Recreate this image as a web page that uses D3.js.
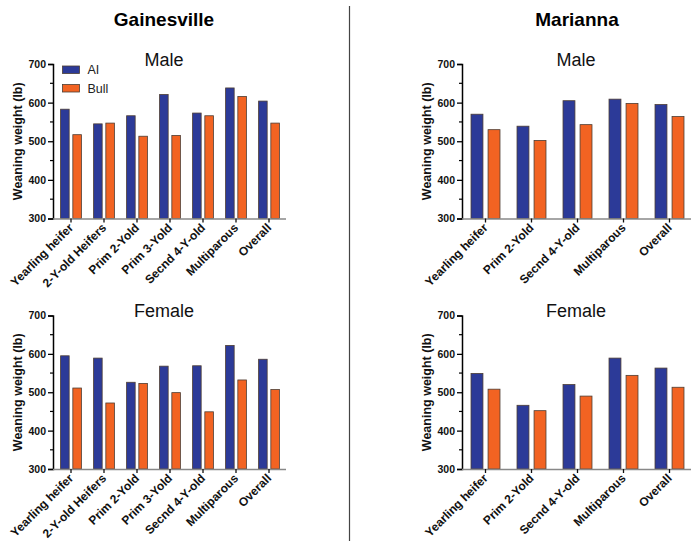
<!DOCTYPE html>
<html>
<head>
<meta charset="utf-8">
<script src="https://cdn.jsdelivr.net/npm/d3@7"></script>
<style>
  body { margin: 0; background: #fff; }
  svg { font-family: "Liberation Sans", Arial, sans-serif; display: block; }
</style>
</head>
<body>
<div id="vis"></div>
<script>
// weaning weight (lb)
const gCategories = ['Yearling heifer', '2-Y-old Heifers', 'Prim 2-Yold', 'Prim 3-Yold', 'Secnd 4-Y-old', 'Multiparous', 'Overall']
const mCategories = ['Yearling heifer', 'Prim 2-Yold', 'Secnd 4-Y-old', 'Multiparous', 'Overall']

const gMaleAI = [583, 545, 566, 621, 573, 638, 604]
const gMaleBull = [517, 547, 513, 515, 566, 616, 547]
const gFemaleAI = [595, 589, 526, 568, 569, 622, 586]
const gFemaleBull = [511, 472, 523, 499, 449, 532, 507]

const mMaleAI = [570, 539, 605, 609, 595]
const mMaleBull = [530, 502, 543, 598, 564]
const mFemaleAI = [549, 466, 520, 589, 563]
const mFemaleBull = [508, 452, 490, 544, 513]

const groups = ['AI', 'Bull']
const yTicks = [300, 400, 500, 600, 700]
const yMinor = [350, 450, 550, 650]

const colors = {AI: '#2c3a98', Bull: '#f26322'}

const svg = d3.select('#vis').append('svg')
    .attr('width', 691)
    .attr('height', 541)

// divider between the two sites
svg.append('line')
    .attr('x1', 349.5).attr('x2', 349.5)
    .attr('y1', 6).attr('y2', 541)
    .attr('stroke', '#444').attr('stroke-width', 1.2)

svg.append('text').attr('x', 164).attr('y', 26)
    .attr('text-anchor', 'middle').attr('font-size', 19).attr('font-weight', 'bold')
    .text('Gainesville')
svg.append('text').attr('x', 577).attr('y', 26)
    .attr('text-anchor', 'middle').attr('font-size', 19).attr('font-weight', 'bold')
    .text('Marianna')

const panels = [
    {title: 'Male', cats: gCategories, ai: gMaleAI, bull: gMaleBull, x0: 53, x1: 54.5, x2: 285.5, xEnd: 286, top: 64, bottom: 218.5, titleX: 164, legend: true},
    {title: 'Female', cats: gCategories, ai: gFemaleAI, bull: gFemaleBull, x0: 53, x1: 54.5, x2: 285.5, xEnd: 286, top: 315.5, bottom: 469, titleX: 164},
    {title: 'Male', cats: mCategories, ai: mMaleAI, bull: mMaleBull, x0: 462, x1: 462.5, x2: 692.5, xEnd: 692, top: 64, bottom: 218.5, titleX: 576},
    {title: 'Female', cats: mCategories, ai: mFemaleAI, bull: mFemaleBull, x0: 462, x1: 462.5, x2: 692.5, xEnd: 692, top: 315.5, bottom: 469, titleX: 576}
]

panels.forEach(p => drawPanel(p))

function drawPanel(p) {
    let g = svg.append('g')

    let x = d3.scaleBand().domain(p.cats).range([p.x1, p.x2])
    let s = x.step()
    let xg = d3.scaleBand().domain(groups).range([-s * 0.315, s * 0.315]).paddingInner(0.3)
    let y = d3.scaleLinear().domain([300, 700]).range([p.bottom, p.top])

    let rows = p.cats.map((c, i) => ({cat: c, AI: p.ai[i], Bull: p.bull[i]}))

    // bars
    g.selectAll('.cat')
        .data(rows)
        .enter()
        .append('g')
        .attr('transform', d => 'translate(' + (x(d.cat) + s / 2) + ',0)')
        .selectAll('rect')
        .data(d => groups.map(k => ({key: k, value: d[k]})))
        .enter()
        .append('rect')
        .attr('x', d => xg(d.key))
        .attr('width', xg.bandwidth())
        .attr('y', d => y(d.value))
        .attr('height', d => y(300) - y(d.value))
        .attr('fill', d => colors[d.key])
        .attr('stroke', '#4d3d33')
        .attr('stroke-width', 0.8)

    // y axis
    let ya = g.append('g')
        .attr('transform', 'translate(' + p.x0 + ',0)')
        .call(d3.axisLeft(y).tickValues(yTicks).tickSize(5).tickPadding(2))
    ya.select('.domain').attr('stroke', '#000').attr('stroke-width', 1.5)
    ya.selectAll('.tick line').attr('stroke-width', 1.3)
    ya.selectAll('text').attr('font-size', 10.5).attr('font-weight', 'bold')
        .attr('font-family', '"Liberation Sans", Arial, sans-serif').attr('fill', '#111')

    g.append('g').selectAll('line')
        .data(yMinor)
        .enter()
        .append('line')
        .attr('x1', p.x0 - 3).attr('x2', p.x0)
        .attr('y1', d => y(d)).attr('y2', d => y(d))
        .attr('stroke', '#000').attr('stroke-width', 1.2)

    // x axis
    let xa = g.append('g')
        .attr('transform', 'translate(0,' + p.bottom + ')')
        .call(d3.axisBottom(x).tickSize(4).tickSizeOuter(0))
    xa.select('.domain').attr('stroke', '#888').attr('stroke-width', 1.5)
        .attr('d', 'M' + p.x0 + ',0.5H' + p.xEnd)
    xa.selectAll('.tick line').attr('stroke', '#111').attr('stroke-width', 1.3)
    xa.selectAll('text')
        .attr('y', 0).attr('dy', null)
        .attr('text-anchor', 'end')
        .attr('transform', 'translate(3,10) rotate(-45)')
        .attr('font-size', 12).attr('font-weight', 'bold')
        .attr('font-family', '"Liberation Sans", Arial, sans-serif').attr('fill', '#111')

    // y title
    g.append('text')
        .attr('transform', 'translate(' + (p.x0 - 31) + ',' + ((p.top + p.bottom) / 2) + ') rotate(-90)')
        .attr('text-anchor', 'middle')
        .attr('font-size', 12.5).attr('font-weight', 'bold').attr('fill', '#111')
        .text('Weaning weight (lb)')

    // panel title
    g.append('text')
        .attr('x', p.titleX).attr('y', p.top + 1.5)
        .attr('text-anchor', 'middle').attr('font-size', 18).attr('fill', '#111')
        .text(p.title)

    if (p.legend) {
        let lg = g.append('g').attr('transform', 'translate(62.5,66)')
        groups.forEach((k, i) => {
            lg.append('rect')
                .attr('x', 0).attr('y', i * 18.5)
                .attr('width', 17).attr('height', 7.5)
                .attr('fill', colors[k]).attr('stroke', '#4d3d33').attr('stroke-width', 0.8)
            lg.append('text')
                .attr('x', 25).attr('y', i * 18.5 + 4)
                .attr('dy', '0.35em')
                .attr('font-size', 12.5).attr('fill', '#222')
                .text(k)
        })
    }
}
</script>
</body>
</html>
